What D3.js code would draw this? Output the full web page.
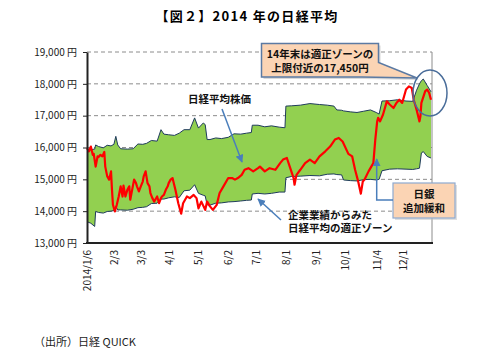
<!DOCTYPE html>
<html>
<head>
<meta charset="utf-8">
<script src="https://cdn.jsdelivr.net/npm/d3@7"></script>
<style>
	body { margin: 0; background: #fff; }
	svg text { font-family: "Noto Sans CJK JP", "Noto Sans", sans-serif; }
</style>
</head>
<body>
<div id="chart"></div>
<script>

// x axis ticks
let tickDates = ["1/6", "2/3", "3/3", "4/1", "5/1", "6/2", "7/1", "8/1", "9/1", "10/1", "11/4", "12/1"];
let tickLabels = ["2014/1/6", "2/3", "3/3", "4/1", "5/1", "6/2", "7/1", "8/1", "9/1", "10/1", "11/4", "12/1"];
let yTicks = [13000, 14000, 15000, 16000, 17000, 18000, 19000];

// fair-value zone (upper / lower edge)
let bandDates = ["1/6", "1/10", "1/14", "1/15", "1/18", "1/23", "1/27", "1/31", "2/3", "2/5", "2/7", "2/10",
	"2/17", "2/23", "2/28", "3/5", "3/9", "3/14", "3/20", "3/24", "3/27", "4/1", "4/7", "4/12", "4/17", "4/23",
	"4/28", "5/2", "5/7", "5/9", "5/11", "5/14", "5/20", "5/26", "6/2", "6/8", "6/15", "6/21", "6/26", "6/27",
	"7/3", "7/10", "7/17", "7/25", "7/31", "8/1", "8/7", "8/16", "8/26", "9/5", "9/13", "9/20", "9/23", "9/28",
	"9/30", "10/7", "10/14", "10/21", "10/28", "11/3", "11/6", "11/9", "11/17", "11/25", "12/4", "12/11",
	"12/15", "12/18", "12/20", "12/22", "12/26", "12/30"];
let bandUpper = [15930, 15930, 15950, 16080, 16030, 15990, 16070, 16050, 16100, 16350, 16080, 15960,
	15950, 15960, 16110, 16100, 16130, 16220, 16200, 16560, 16420, 16400, 16380, 16450, 16560, 16560,
	16930, 16610, 16770, 16720, 16250, 16250, 16300, 16280, 16320, 16430, 16420, 16450, 16470, 16700,
	16700, 16650, 16680, 16640, 16620, 17300, 17310, 17330, 17380, 17350, 17330, 17300, 17180, 17170,
	17150, 17120, 17100, 17140, 17180, 17100, 17050, 17460, 17470, 17500, 17460, 17450,
	17800, 18000, 18100, 18150, 17950, 17750];
let bandLower = [13670, 13620, 13520, 13990, 13960, 13940, 13990, 14000, 14020, 14150, 14040, 14040,
	14030, 14060, 14110, 14120, 14140, 14240, 14250, 14380, 14380, 14420, 14450, 14430, 14640, 14660,
	14830, 14560, 14500, 14480, 14200, 14190, 14250, 14260, 14290, 14300, 14320, 14340, 14350, 14540,
	14560, 14540, 14560, 14600, 14600, 15050, 15090, 15100, 15120, 15110, 15160, 15170, 15150, 15140,
	14980, 14960, 14950, 14990, 15000, 14980, 15000, 15270, 15320, 15330, 15320, 15310,
	15330, 15350, 15830, 15870, 15720, 15670];

// Nikkei average
let nikkeiDates = ["1/6", "1/8", "1/10", "1/12", "1/13", "1/15", "1/17", "1/18", "1/20", "1/22", "1/24", "1/25",
	"1/27", "1/29", "1/31", "2/1", "2/2", "2/4", "2/6", "2/8", "2/10", "2/12", "2/13", "2/15", "2/17", "2/19",
	"2/20", "2/22", "2/24", "2/26", "2/27", "3/1", "3/3", "3/5", "3/6", "3/8", "3/10", "3/12", "3/13", "3/15",
	"3/17", "3/18", "3/20", "3/22", "3/24", "3/25", "3/27", "3/29", "3/31", "4/1", "4/3", "4/5", "4/8", "4/11",
	"4/14", "4/16", "4/20", "4/23", "4/27", "4/30", "5/2", "5/5", "5/9", "5/11", "5/14", "5/17", "5/21", "5/24",
	"5/28", "6/2", "6/6", "6/9", "6/12", "6/16", "6/19", "6/23", "6/28", "7/3", "7/5", "7/10", "7/15", "7/21",
	"7/26", "7/29", "8/2", "8/5", "8/9", "8/10", "8/12", "8/16", "8/21", "8/26", "8/31", "9/5", "9/11", "9/16",
	"9/21", "9/25", "9/29", "10/5", "10/9", "10/12", "10/15", "10/18", "10/20", "10/22", "10/26", "10/31",
	"11/2", "11/4", "11/5", "11/7", "11/10", "11/14", "11/17", "11/21", "11/24", "11/27", "11/30", "12/4",
	"12/7", "12/10", "12/12", "12/15", "12/18", "12/19", "12/20", "12/24", "12/26", "12/28", "12/30"];
let nikkeiValues = [15980, 15880, 16030, 15770, 15800, 15400, 15720, 15700, 15770, 15720, 15860, 15400,
	15100, 14990, 15250, 14670, 14200, 13990, 14200, 14460, 14780, 14460, 14800, 14460, 14670, 14780,
	14360, 14670, 14990, 14880, 14780, 14620, 14780, 14930, 15090, 15250, 14880, 14780, 14570, 14410,
	14300, 14360, 14460, 14250, 14410, 14460, 14510, 14670, 14780, 14880, 14990, 15040, 14670, 14250,
	13920, 14250, 14460, 14410, 14510, 14410, 14090, 14300, 14040, 14300, 14150, 14040, 14200, 14570,
	14780, 15040, 15040, 14990, 15040, 15140, 15300, 15350, 15250, 15350, 15400, 15250, 15350, 15300,
	15510, 15620, 15670, 15400, 15040, 14830, 15140, 15300, 15510, 15620, 15510, 15720, 15880, 16030,
	16250, 16300, 16190, 15800, 15720, 15300, 14960, 14550, 14930, 15000, 15250, 15510,
	16240, 16820, 16930, 16820, 17030, 17450, 17350, 17240, 17400, 17500, 17400, 17820,
	17920, 17870, 17500, 17190, 16820, 16980, 17400, 17770, 17820, 17720, 17500];

let parseDate = d3.timeParse("%Y/%m/%d");
let md = s => parseDate("2014/" + s);

let width = 504;
let height = 353;
let plotLeft = 87, plotRight = 432, plotTop = 52, plotBottom = 243;

let svg = d3.select("#chart")
	.append("svg")
	.attr("width", width)
	.attr("height", height);

let x = d3.scaleTime()
	.domain([md("1/6"), md("12/30")])
	.range([plotLeft, plotRight - 1]);

let y = d3.scaleLinear()
	.domain([13000, 19000])
	.range([plotBottom, plotTop]);

let defs = svg.append("defs");
defs.append("marker")
	.attr("id", "arrow")
	.attr("viewBox", "0 0 10 10")
	.attr("refX", 9)
	.attr("refY", 5)
	.attr("markerUnits", "userSpaceOnUse")
	.attr("markerWidth", 8)
	.attr("markerHeight", 8)
	.attr("orient", "auto")
	.append("path")
	.attr("d", "M0,0 L10,5 L0,10 z")
	.attr("fill", "#4a7ebb");

// Title
svg.append("text")
	.attr("x", 247)
	.attr("y", 15)
	.attr("text-anchor", "middle")
	.attr("dominant-baseline", "central")
	.style("font-size", "13px")
	.style("font-weight", "bold")
	.style("letter-spacing", "1.3px")
	.text("【図２】2014 年の日経平均");

// Gridlines (behind the zone)
svg.append("g")
	.selectAll("line")
	.data(yTicks.filter(d => d > 13000))
	.enter()
	.append("line")
	.attr("x1", plotLeft)
	.attr("x2", plotRight)
	.attr("y1", d => y(d))
	.attr("y2", d => y(d))
	.attr("stroke", "#8c8c8c")
	.attr("stroke-width", 1)
	.attr("stroke-dasharray", "4,3");

// right border
svg.append("line")
	.attr("x1", plotRight).attr("x2", plotRight)
	.attr("y1", y(19000)).attr("y2", plotBottom)
	.attr("stroke", "#8c8c8c");

// Zone
let band = bandDates.map((d, i) => ({ date: md(d), hi: bandUpper[i], lo: bandLower[i] }));

let area = d3.area()
	.x(d => x(d.date))
	.y0(d => y(d.lo))
	.y1(d => y(d.hi));

svg.append("path")
	.datum(band)
	.attr("d", area)
	.attr("fill", "#92d050");

let edge = key => d3.line()
	.x(d => x(d.date))
	.y(d => y(d[key]));

["hi", "lo"].forEach(k => {
	svg.append("path")
		.datum(band)
		.attr("d", edge(k))
		.attr("fill", "none")
		.attr("stroke", "#1f3b5c")
		.attr("stroke-width", 1);
});

// Nikkei line
let nikkei = nikkeiDates.map((d, i) => ({ date: md(d), value: nikkeiValues[i] }));

svg.append("path")
	.datum(nikkei)
	.attr("d", d3.line().x(d => x(d.date)).y(d => y(d.value)))
	.attr("fill", "none")
	.attr("stroke", "#ff0000")
	.attr("stroke-width", 2.2)
	.attr("stroke-linejoin", "round");

// Axes
let yAxis = svg.append("g")
	.attr("transform", `translate(${plotLeft},0)`)
	.call(d3.axisLeft(y)
		.tickValues(yTicks)
		.tickSize(4)
		.tickSizeOuter(0)
		.tickPadding(6)
		.tickFormat(d => d3.format(",")(d) + " 円"));
yAxis.select(".domain").attr("stroke", "#222").attr("stroke-width", 2);
yAxis.selectAll(".tick line").attr("stroke", "#222");
yAxis.selectAll("text")
	.style("font-size", "10px")
	.attr("fill", "#222");

let xAxis = svg.append("g")
	.attr("transform", `translate(0,${plotBottom})`)
	.call(d3.axisBottom(x)
		.tickValues(tickDates.map(md))
		.tickSize(0)
		.tickSizeOuter(0)
		.tickFormat((d, i) => tickLabels[i]));
xAxis.select(".domain").remove();
xAxis.selectAll("text")
	.attr("transform", "rotate(-90)")
	.attr("text-anchor", "end")
	.attr("x", -7)
	.attr("y", 0)
	.attr("dy", "0.35em")
	.style("font-size", "10px")
	.attr("fill", "#222");

svg.append("line")
	.attr("x1", plotLeft - 1).attr("x2", plotRight + 1)
	.attr("y1", plotBottom).attr("y2", plotBottom)
	.attr("stroke", "#222")
	.attr("stroke-width", 2);

// Annotations
let ann = svg.append("g")
	.style("font-weight", "bold")
	.style("font-size", "10.5px")
	.attr("fill", "#111");

// callout: 14年末は...
let callout = "M261.5,43.5 H378.5 V62.5 L417,78 L362,77 H261.5 Z";
ann.append("path")
	.attr("d", callout)
	.attr("transform", "translate(2,2)")
	.attr("fill", "#bfbfbf")
	.attr("opacity", 0.6);
ann.append("path")
	.attr("d", callout)
	.attr("fill", "#fbd4b4")
	.attr("stroke", "#5b7aa3")
	.attr("stroke-width", 1.5);
ann.append("text")
	.attr("x", 320).attr("y", 53.5)
	.attr("text-anchor", "middle")
	.attr("dominant-baseline", "central")
	.text("14年末は適正ゾーンの");
ann.append("text")
	.attr("x", 320).attr("y", 67)
	.attr("text-anchor", "middle")
	.attr("dominant-baseline", "central")
	.text("上限付近の17,450円");

// ellipse
ann.append("ellipse")
	.attr("cx", 430).attr("cy", 93)
	.attr("rx", 17).attr("ry", 23)
	.attr("fill", "none")
	.attr("stroke", "#4a6d9a")
	.attr("stroke-width", 1.5);

// 日経平均株価
ann.append("text")
	.attr("x", 188).attr("y", 98.5)
	.attr("dominant-baseline", "central")
	.text("日経平均株価");
ann.append("line")
	.attr("x1", 222).attr("y1", 109)
	.attr("x2", 242).attr("y2", 162)
	.attr("stroke", "#4a7ebb")
	.attr("stroke-width", 1.5)
	.attr("marker-end", "url(#arrow)");

// 適正ゾーン
ann.append("text")
	.attr("x", 288).attr("y", 214)
	.attr("dominant-baseline", "central")
	.text("企業業績からみた");
ann.append("text")
	.attr("x", 288).attr("y", 227.5)
	.attr("dominant-baseline", "central")
	.text("日経平均の適正ゾーン");
ann.append("line")
	.attr("x1", 281).attr("y1", 220)
	.attr("x2", 258).attr("y2", 199)
	.attr("stroke", "#4a7ebb")
	.attr("stroke-width", 1.5)
	.attr("marker-end", "url(#arrow)");

// 日銀 追加緩和
ann.append("rect")
	.attr("x", 395).attr("y", 185)
	.attr("width", 62).attr("height", 35)
	.attr("fill", "#bfbfbf")
	.attr("opacity", 0.5);
ann.append("rect")
	.attr("x", 393).attr("y", 183)
	.attr("width", 62).attr("height", 35)
	.attr("fill", "#fbd4b4")
	.attr("stroke", "#8eaad0")
	.attr("stroke-width", 1.2);
ann.append("text")
	.attr("x", 424).attr("y", 193)
	.attr("text-anchor", "middle")
	.attr("dominant-baseline", "central")
	.text("日銀");
ann.append("text")
	.attr("x", 424).attr("y", 207.5)
	.attr("text-anchor", "middle")
	.attr("dominant-baseline", "central")
	.text("追加緩和");
ann.append("path")
	.attr("d", "M393,200 H376.7 V159")
	.attr("fill", "none")
	.attr("stroke", "#4a7ebb")
	.attr("stroke-width", 1.5)
	.attr("marker-end", "url(#arrow)");

// Source
svg.append("text")
	.attr("x", 34)
	.attr("y", 341)
	.attr("dominant-baseline", "central")
	.style("font-size", "11px")
	.attr("fill", "#222")
	.text("（出所）日経 QUICK");

</script>
</body>
</html>
